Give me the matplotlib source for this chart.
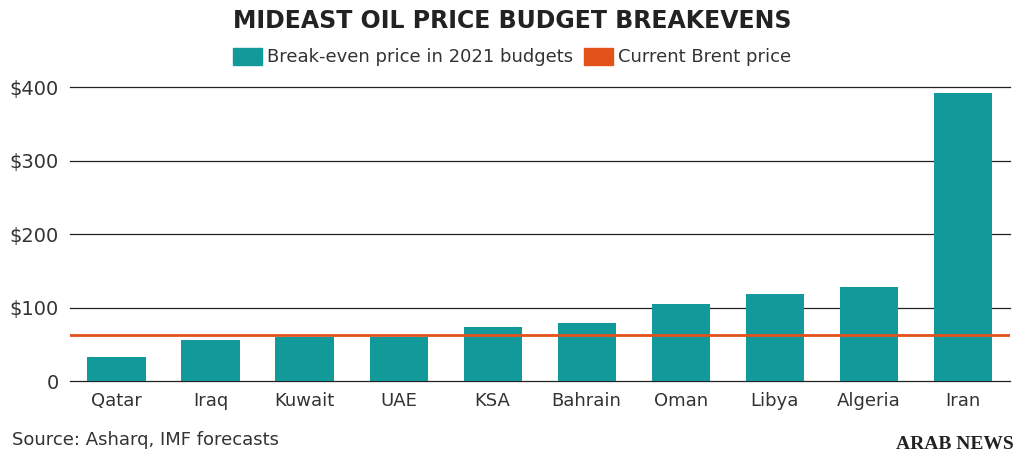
import matplotlib
matplotlib.use("Agg")
import matplotlib.pyplot as plt
from matplotlib.patches import Patch
from matplotlib.lines import Line2D

countries = ["Qatar", "Iraq", "Kuwait", "UAE", "KSA", "Bahrain", "Oman", "Libya", "Algeria", "Iran"]
breakeven = [33, 56, 60, 60, 73, 79, 105, 118, 128, 392]
brent_price = 63
yticks = [0, 100, 200, 300, 400]
ytick_labels = ["0", "$100", "$200", "$300", "$400"]

TEAL = "#12999a"
ORANGE = "#e4521b"

fig = plt.figure(figsize=(10.24, 4.63), dpi=100)
ax = fig.add_axes([0.068, 0.177, 0.918, 0.635])

x = range(len(countries))
ax.bar(x, breakeven, width=0.62, color=TEAL, zorder=2)
ax.axhline(brent_price, color=ORANGE, linewidth=2, zorder=3)

ax.set_ylim(0, 400)
ax.set_xlim(-0.5, len(countries) - 0.5)
ax.set_yticks(yticks)
ax.set_yticklabels(ytick_labels, fontsize=14, color="#333333")
ax.set_xticks(list(x))
ax.set_xticklabels(countries, fontsize=13, color="#333333")
ax.tick_params(length=0, pad=8)
for s in ax.spines.values():
    s.set_visible(False)
for t in yticks:
    ax.axhline(t, color="#222222", linewidth=0.9, zorder=1, clip_on=False)

fig.text(0.5, 0.955, "MIDEAST OIL PRICE BUDGET BREAKEVENS", ha="center", va="center",
         fontsize=17, fontweight="black", color="#222222")
handles = [Patch(color=TEAL, label="Break-even price in 2021 budgets"),
           Patch(color=ORANGE, label="Current Brent price")]
fig.legend(handles=handles, loc="center", bbox_to_anchor=(0.5, 0.877), ncol=2,
           frameon=False, fontsize=13, handlelength=1.6, handleheight=1.1,
           columnspacing=0.6, handletextpad=0.3, labelcolor="#333333")

fig.text(0.012, 0.05, "Source: Asharq, IMF forecasts", fontsize=13, color="#333333", va="center")
fig.text(0.99, 0.04, "ARAB NEWS", fontsize=14, family="Liberation Serif", fontweight="bold",
         ha="right", va="center", color="#222222")

fig.savefig("out.png", dpi=100)
